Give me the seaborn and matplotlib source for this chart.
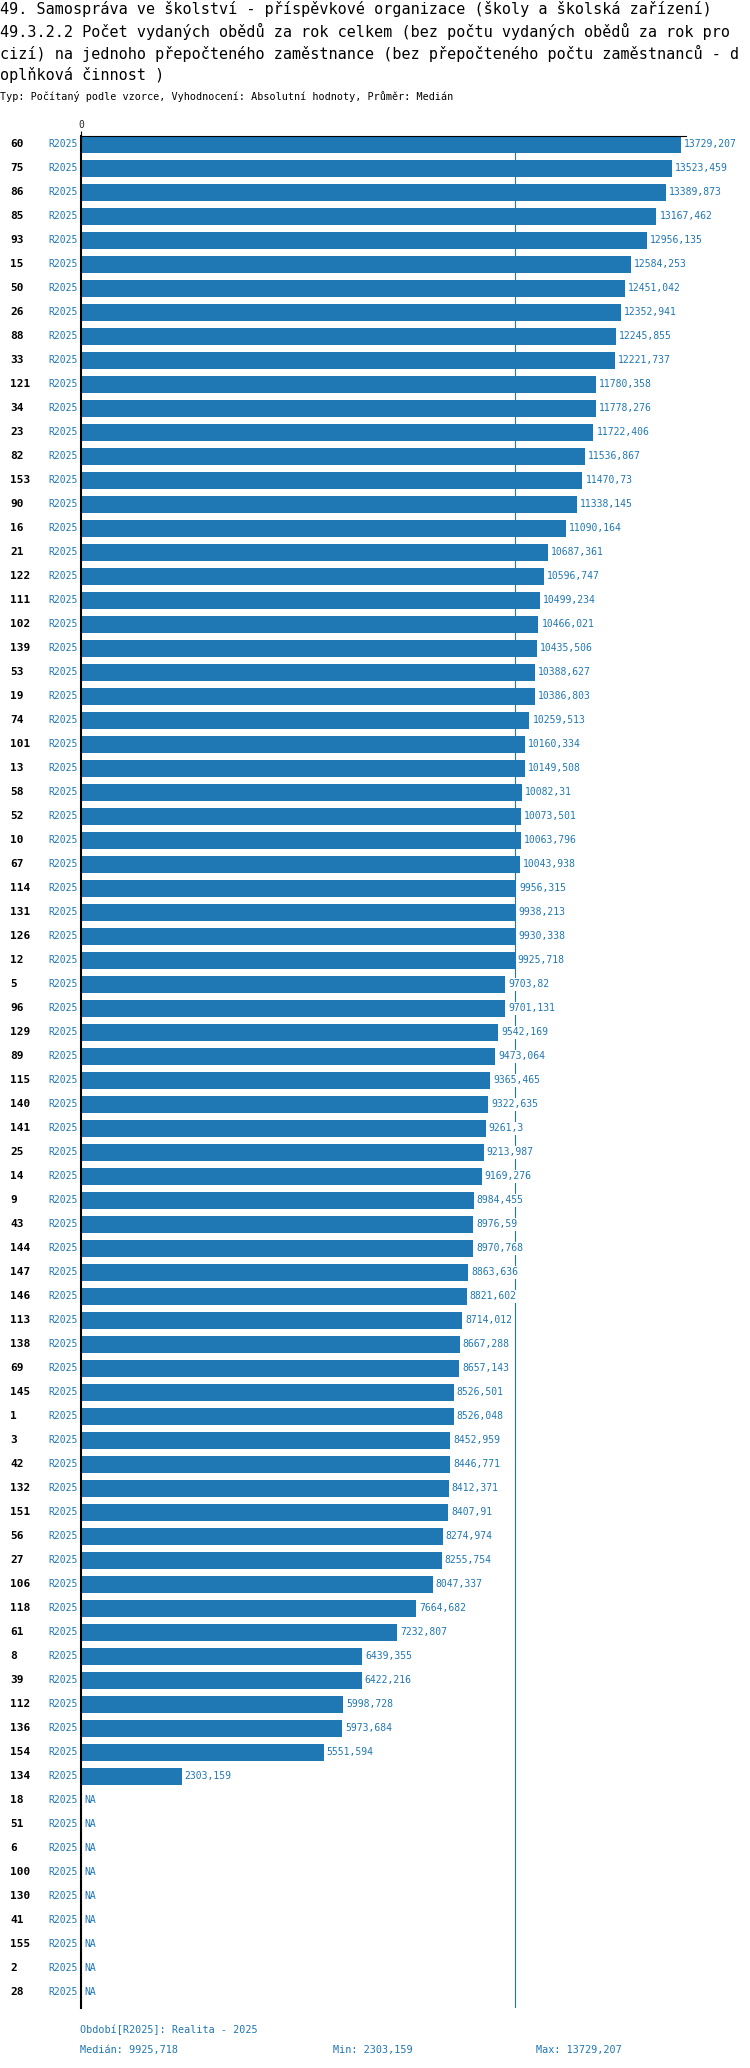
import matplotlib
matplotlib.use("Agg")
import matplotlib.pyplot as plt
import matplotlib.transforms as mtransforms
import seaborn as sns
import pandas as pd
import numpy as np

# row labels (units) in the order shown, NA rows at the end
ids = ["60", "75", "86", "85", "93", "15", "50", "26", "88", "33",
       "121", "34", "23", "82", "153", "90", "16", "21", "122", "111",
       "102", "139", "53", "19", "74", "101", "13", "58", "52", "10",
       "67", "114", "131", "126", "12", "5", "96", "129", "89", "115",
       "140", "141", "25", "14", "9", "43", "144", "147", "146", "113",
       "138", "69", "145", "1", "3", "42", "132", "151", "56", "27",
       "106", "118", "61", "8", "39", "112", "136", "154", "134",
       "18", "51", "6", "100", "130", "41", "155", "2", "28"]

values = [13729.207, 13523.459, 13389.873, 13167.462, 12956.135, 12584.253,
          12451.042, 12352.941, 12245.855, 12221.737, 11780.358, 11778.276,
          11722.406, 11536.867, 11470.73, 11338.145, 11090.164, 10687.361,
          10596.747, 10499.234, 10466.021, 10435.506, 10388.627, 10386.803,
          10259.513, 10160.334, 10149.508, 10082.31, 10073.501, 10063.796,
          10043.938, 9956.315, 9938.213, 9930.338, 9925.718, 9703.82,
          9701.131, 9542.169, 9473.064, 9365.465, 9322.635, 9261.3,
          9213.987, 9169.276, 8984.455, 8976.59, 8970.768, 8863.636,
          8821.602, 8714.012, 8667.288, 8657.143, 8526.501, 8526.048,
          8452.959, 8446.771, 8412.371, 8407.91, 8274.974, 8255.754,
          8047.337, 7664.682, 7232.807, 6439.355, 6422.216, 5998.728,
          5973.684, 5551.594, 2303.159,
          None, None, None, None, None, None, None, None, None]

period = "R2025"
title_lines = [
    "49. Samospráva ve školství - příspěvkové organizace (školy a školská zařízení)",
    "49.3.2.2 Počet vydaných obědů za rok celkem (bez počtu vydaných obědů za rok pro",
    "cizí) na jednoho přepočteného zaměstnance (bez přepočteného počtu zaměstnanců - d",
    "oplňková činnost )",
]
subtitle = "Typ: Počítaný podle vzorce, Vyhodnocení: Absolutní hodnoty, Průměr: Medián"
period_note = "Období[R2025]: Realita - 2025"

blue = "#1f77b4"

sns.set_style("white")
plt.rcParams['font.family'] = ['DejaVu Sans Mono']

W, H = 750, 2068
fig = plt.figure(figsize=(W / 100, H / 100), dpi=100)
ax_l, ax_r, ax_t, ax_b = 81, 686, 136, 2008
ax = fig.add_axes([ax_l / W, 1 - ax_b / H, (ax_r - ax_l) / W, (ax_b - ax_t) / H])


def fmt(v):
    return repr(v).replace(".", ",")


df = pd.DataFrame({"id": ids, "value": values}).dropna()
sns.barplot(data=df, x="value", y="id", order=ids, orient="h", color=blue,
            saturation=1, width=0.667, linewidth=0, errorbar=None, ax=ax)

known = df["value"].to_numpy(dtype=float)
med = float(np.median(known))
ax.axvline(med, color=blue, lw=0.8, zorder=0.5)

n = len(ids)
ax.set_ylim(n - 1 + 0.646, -0.354)
ax.set_xlim(0, known.max() * 1.0083)

for s in ["right", "bottom"]:
    ax.spines[s].set_visible(False)
ax.spines["left"].set_color("black")
ax.spines["left"].set_linewidth(1.5)
ax.spines["top"].set_color("black")
ax.spines["top"].set_linewidth(0.8)

ax.xaxis.tick_top()
ax.set_xticks([0])
ax.set_xticklabels(["0"])
ax.tick_params(axis="x", length=3.6, width=0.8, color="black", labelsize=7, pad=1)
ax.tick_params(axis="y", left=False, labelleft=False)
ax.set_xlabel("")
ax.set_ylabel("")

trans = mtransforms.blended_transform_factory(fig.transFigure, ax.transData)
for i, (lab, v) in enumerate(zip(ids, values)):
    ax.text(10 / W, i, lab, transform=trans, ha="left", va="center",
            fontsize=8, fontweight="bold", color="black")
    ax.text(77.5 / W, i, period, transform=trans, ha="right", va="center",
            fontsize=7, color=blue)
    txt = "NA" if v is None else fmt(v)
    ax.annotate(txt, xy=(0 if v is None else v, i), xytext=(2.2, 0),
                textcoords="offset points", ha="left", va="center",
                fontsize=7, color=blue, zorder=3,
                bbox=dict(boxstyle="square,pad=0.15", fc="white", ec="none"))

for k, line in enumerate(title_lines):
    fig.text(0, 1 - (9 + 22 * k) / H, line, fontsize=10.9, va="center", color="black")
fig.text(0, 1 - 96 / H, subtitle, fontsize=7.3, va="center", color="black")

fig.text(80 / W, 1 - 2030 / H, period_note, fontsize=7.3, va="center", color=blue)
fig.text(80 / W, 1 - 2050 / H, "Medián: " + fmt(round(med, 3)), fontsize=7.3, va="center", color=blue)
fig.text(333 / W, 1 - 2050 / H, "Min: " + fmt(known.min().item()), fontsize=7.3, va="center", color=blue)
fig.text(536 / W, 1 - 2050 / H, "Max: " + fmt(known.max().item()), fontsize=7.3, va="center", color=blue)

fig.savefig("out.png", dpi=100)
